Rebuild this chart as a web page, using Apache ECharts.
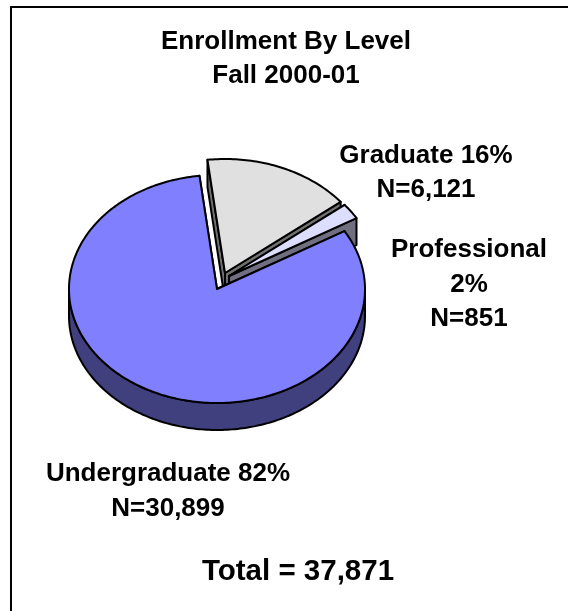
<!DOCTYPE html>
<html><head><meta charset="utf-8">
<style>html,body{margin:0;padding:0;background:#fff}#c{width:568px;height:611px}</style>
<script src="https://cdn.jsdelivr.net/npm/echarts@6/dist/echarts.min.js"></script>
</head><body><div id="c"></div>
<script>
var categories = ['Graduate', 'Professional', 'Undergraduate'];
var values = [6121, 851, 30899];
var titleLines = ['Enrollment By Level', 'Fall 2000-01'];
var labelLines = [['Graduate 16%', 'N=6,121'], ['Professional', '2%', 'N=851'], ['Undergraduate 82%', 'N=30,899']];
var totalText = 'Total = 37,871';
var topColors = ['#E0E0E0', '#DDDDFF', '#8080FF'];
var wallColors = ['#707070', '#6F6F80', '#40407F'];
var centers = [[225, 273], [229, 276], [217, 289]];

var RX = 148, RY = 114, DEPTH = 27, START = -6.8;
var total = values.reduce(function (a, b) { return a + b; }, 0);
var chart = echarts.init(document.getElementById('c'), null, { renderer: 'canvas' });
function pt(c, deg, dy) {
  var a = deg * Math.PI / 180;
  return [c[0] + RX * Math.sin(a), c[1] - RY * Math.cos(a) + (dy || 0)];
}
function poly(points, fill) {
  return { type: 'polygon', shape: { points: points },
    style: { fill: fill, stroke: '#000', lineWidth: 2, lineJoin: 'round' } };
}
function renderItem(params, api) {
  var i = params.dataIndex, before = 0;
  for (var k = 0; k < i; k++) before += values[k];
  var a0 = START + before / total * 360;
  var a1 = a0 + api.value(1) / total * 360;
  var c = centers[i], kids = [], d, arc = [];
  [a0, a1].forEach(function (a) {
    var p = pt(c, a);
    kids.push(poly([c, p, [p[0], p[1] + DEPTH], [c[0], c[1] + DEPTH]], wallColors[i]));
  });
  var lo = Math.max(a0, 90), hi = Math.min(a1, 270);
  if (hi > lo) {
    var upper = [], lower = [];
    for (d = lo; d <= hi; d += 1) { upper.push(pt(c, d)); lower.unshift(pt(c, d, DEPTH)); }
    kids.push(poly(upper.concat(lower), wallColors[i]));
  }
  arc.push(c);
  for (d = a0; d < a1; d += 1) arc.push(pt(c, d));
  arc.push(pt(c, a1));
  kids.push(poly(arc, topColors[i]));
  return { type: 'group', children: kids };
}
function textBlock(lines, cx, ys, size) {
  return lines.map(function (t, i) {
    return { type: 'text', x: cx, y: ys[i],
      style: { text: t, fill: '#000', font: 'bold ' + size + 'px "Liberation Sans", Arial, sans-serif',
        textAlign: 'center', textVerticalAlign: 'middle' } };
  });
}
var graphics = [
  { type: 'line', shape: { x1: 10, y1: 7, x2: 568, y2: 7 }, style: { stroke: '#000', lineWidth: 2 } },
  { type: 'line', shape: { x1: 11, y1: 6, x2: 11, y2: 611 }, style: { stroke: '#000', lineWidth: 2 } }]
  .concat(textBlock(titleLines, 286, [42, 76], 26))
  .concat(textBlock(labelLines[0], 426, [156, 190], 26))
  .concat(textBlock(labelLines[1], 469, [250, 285, 319], 26))
  .concat(textBlock(labelLines[2], 168, [474, 509], 26))
  .concat(textBlock([totalText], 298, [572], 29.5));
chart.setOption({
  animation: false,
  backgroundColor: '#fff',
  graphic: graphics,
  series: [{
    type: 'custom', coordinateSystem: 'none', silent: true,
    renderItem: renderItem,
    data: categories.map(function (n, i) { return { name: n, value: [i, values[i]] }; })
  }]
});
</script></body></html>
